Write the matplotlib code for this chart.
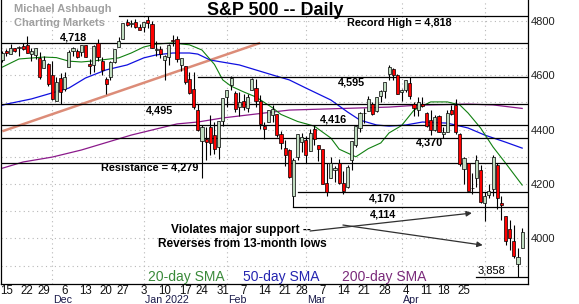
import numpy as np
import pandas as pd
import matplotlib
matplotlib.use('Agg')
import matplotlib.pyplot as plt

plt.rcParams['font.family'] = ['Liberation Sans', 'DejaVu Sans']

holidays = ['2021-11-25', '2021-12-24', '2022-01-17', '2022-02-21', '2022-04-15']
dates = pd.bdate_range('2021-11-12', '2022-05-13', freq='C', holidays=holidays)

# S&P 500 daily OHLC, Nov 12 2021 -> May 13 2022
opens = [4655, 4689, 4679, 4701, 4700, 4708, 4712, 4679, 4675, 4664,
         4628, 4641, 4602, 4504, 4589, 4548, 4631, 4690, 4691, 4687,
         4710, 4642, 4636, 4719, 4652, 4587, 4594, 4650, 4703, 4733,
         4795, 4788, 4795, 4776, 4778, 4804, 4788, 4693, 4698, 4655,
         4669, 4729, 4733, 4637, 4633, 4588, 4548, 4471, 4357, 4367,
         4408, 4380, 4336, 4431, 4519, 4566, 4535, 4482, 4505, 4480,
         4547, 4554, 4506, 4413, 4429, 4455, 4456, 4384, 4332, 4324,
         4155, 4298, 4355, 4363, 4322, 4401, 4343, 4327, 4203, 4223,
         4253, 4279, 4202, 4188, 4288, 4345, 4407, 4462, 4469, 4493,
         4470, 4522, 4541, 4603, 4624, 4600, 4540, 4547, 4573, 4495,
         4474, 4494, 4462, 4437, 4397, 4449, 4385, 4390, 4473, 4489,
         4385, 4255, 4279, 4186, 4222, 4253, 4130, 4159, 4181, 4271,
         4129, 4081, 4035, 3991, 3904, 3963]
highs = [4688, 4697, 4714, 4701, 4708, 4717, 4744, 4701, 4702, 4686,
         4672, 4646, 4652, 4595, 4608, 4612, 4694, 4705, 4695, 4713,
         4710, 4660, 4712, 4732, 4667, 4592, 4651, 4698, 4740, 4791,
         4807, 4805, 4808, 4787, 4797, 4819, 4798, 4725, 4708, 4673,
         4714, 4749, 4744, 4665, 4633, 4612, 4611, 4494, 4418, 4411,
         4453, 4429, 4432, 4516, 4547, 4596, 4542, 4540, 4530, 4531,
         4590, 4588, 4527, 4427, 4473, 4490, 4456, 4395, 4362, 4329,
         4295, 4385, 4389, 4378, 4401, 4416, 4343, 4328, 4277, 4299,
         4268, 4292, 4248, 4271, 4358, 4412, 4465, 4481, 4522, 4501,
         4520, 4546, 4575, 4637, 4627, 4603, 4548, 4583, 4593, 4503,
         4521, 4520, 4464, 4471, 4453, 4453, 4410, 4471, 4489, 4513,
         4386, 4299, 4279, 4240, 4308, 4270, 4169, 4200, 4308, 4276,
         4157, 4081, 4068, 4050, 3964, 4039]
lows = [4650, 4672, 4679, 4684, 4672, 4694, 4682, 4652, 4659, 4586,
        4626, 4560, 4510, 4504, 4495, 4541, 4631, 4670, 4665, 4671,
        4667, 4606, 4612, 4651, 4600, 4531, 4583, 4645, 4703, 4733,
        4780, 4778, 4775, 4766, 4759, 4774, 4699, 4671, 4663, 4582,
        4638, 4708, 4650, 4614, 4568, 4532, 4477, 4395, 4222, 4287,
        4305, 4309, 4293, 4415, 4483, 4545, 4465, 4452, 4472, 4464,
        4547, 4484, 4401, 4364, 4429, 4429, 4373, 4327, 4268, 4221,
        4114, 4287, 4318, 4279, 4322, 4345, 4284, 4199, 4157, 4223,
        4209, 4200, 4162, 4187, 4251, 4335, 4391, 4424, 4469, 4455,
        4465, 4501, 4517, 4581, 4582, 4530, 4507, 4539, 4514, 4450,
        4450, 4485, 4408, 4381, 4395, 4392, 4370, 4390, 4455, 4384,
        4267, 4200, 4175, 4162, 4188, 4131, 4062, 4147, 4154, 4107,
        4067, 3976, 3958, 3928, 3859, 3963]
closes = [4682, 4683, 4701, 4689, 4705, 4698, 4683, 4690, 4701, 4595,
          4655, 4567, 4513, 4577, 4538, 4592, 4686, 4701, 4667, 4712,
          4669, 4635, 4709, 4668, 4621, 4568, 4649, 4697, 4726, 4791,
          4786, 4793, 4778, 4766, 4797, 4794, 4701, 4696, 4677, 4670,
          4713, 4726, 4659, 4663, 4577, 4533, 4483, 4398, 4410, 4356,
          4350, 4327, 4432, 4516, 4546, 4590, 4477, 4501, 4484, 4521,
          4587, 4504, 4419, 4402, 4472, 4475, 4380, 4349, 4305, 4225,
          4288, 4385, 4374, 4306, 4387, 4364, 4329, 4201, 4171, 4278,
          4260, 4204, 4173, 4262, 4357, 4412, 4463, 4461, 4512, 4456,
          4520, 4543, 4575, 4632, 4602, 4530, 4546, 4582, 4525, 4481,
          4500, 4488, 4413, 4397, 4446, 4392, 4392, 4463, 4459, 4393,
          4272, 4296, 4175, 4184, 4288, 4132, 4156, 4175, 4300, 4147,
          4123, 3991, 4001, 3935, 3930, 4024]

# moving averages
sma20_dates = ['2021-11-12', '2021-11-18', '2021-11-29', '2021-12-02', '2021-12-07',
               '2021-12-10', '2021-12-15', '2021-12-23', '2021-12-29', '2022-01-03',
               '2022-01-06', '2022-01-12', '2022-01-19', '2022-01-24', '2022-01-27',
               '2022-01-31', '2022-02-02', '2022-02-07', '2022-02-10', '2022-02-16',
               '2022-02-18', '2022-02-25', '2022-03-03', '2022-03-09', '2022-03-11',
               '2022-03-17', '2022-03-22', '2022-03-25', '2022-03-29', '2022-04-01',
               '2022-04-06', '2022-04-12', '2022-04-19', '2022-04-22', '2022-04-26',
               '2022-04-29', '2022-05-04', '2022-05-09', '2022-05-13']
sma20_vals = [4630, 4660, 4667, 4665, 4652, 4649, 4653, 4664, 4682, 4704,
              4715, 4719, 4712, 4693, 4640, 4583, 4560, 4539, 4520, 4480,
              4456, 4430, 4413, 4369, 4328, 4300, 4330, 4351, 4388, 4415,
              4472, 4502, 4502, 4491, 4461, 4406, 4336, 4277, 4196]

sma50_dates = ['2021-11-12', '2021-11-15', '2021-11-23', '2021-12-07', '2021-12-13',
               '2021-12-20', '2021-12-28', '2022-01-03', '2022-01-06', '2022-01-12',
               '2022-01-19', '2022-01-21', '2022-01-26', '2022-02-04', '2022-02-16',
               '2022-02-23', '2022-03-01', '2022-03-09', '2022-03-15', '2022-03-18',
               '2022-03-24', '2022-03-29', '2022-04-04', '2022-04-08', '2022-04-19',
               '2022-04-26', '2022-05-02', '2022-05-09', '2022-05-13']
sma50_vals = [4490, 4494, 4513, 4553, 4590, 4620, 4638, 4664, 4675, 4682,
              4682, 4678, 4656, 4638, 4601, 4583, 4553, 4509, 4465, 4435,
              4417, 4413, 4417, 4428, 4424, 4406, 4380, 4354, 4332]

sma200_dates = ['2021-11-12', '2021-11-19', '2021-12-01', '2021-12-10', '2021-12-29',
                '2022-01-13', '2022-01-21', '2022-01-31', '2022-02-23', '2022-03-29',
                '2022-04-07', '2022-04-26', '2022-05-04', '2022-05-13']
sma200_vals = [4258, 4281, 4299, 4325, 4380, 4421, 4428, 4443, 4472, 4483,
               4490, 4494, 4491, 4478]

trend_dates = ['2021-11-12', '2022-02-11']
trend_vals = [4394, 4719]

levels = [4818, 4718, 4595, 4495, 4416, 4370, 4279, 4170, 4114, 3858]
level_starts = ['2021-12-23', None, '2022-01-21', None, None, None, None,
                '2022-02-25', '2022-02-24', '2022-04-28']

week_labels = ['15', '22', '29', '6', '13', '20', '27', '3', '10', '17', '24', '31',
               '7', '14', '21', '28', '7', '14', '21', '28', '4', '11', '18', '25']
month_labels = ['Dec', 'Jan 2022', 'Feb', 'Mar', 'Apr']
month_starts = ['2021-12-01', '2022-01-03', '2022-02-01', '2022-03-01', '2022-04-01']
grid_months = ['2021-12-01', '2022-01-03', '2022-02-01', '2022-03-01', '2022-04-01', '2022-05-02']


def pos(d):
    return dates.get_loc(pd.Timestamp(d))


W, H = 579, 304
fig = plt.figure(figsize=(W / 100, H / 100), dpi=100)
ax = fig.add_axes([1 / W, 20 / H, 527 / W, 284 / H])
ax.set_xlim(-0.32, 126.4)
ax.set_ylim(3832, 4877)

# grid
for v in range(3900, 4900, 100):
    ax.axhline(v, color='#b8b8b8', lw=0.8, ls=(0, (1, 3)), zorder=0)
for d in grid_months:
    ax.axvline(pos(d), color='#b8b8b8', lw=0.8, ls=(0, (1, 3)), zorder=0)

# support / resistance lines
for lv, st in zip(levels, level_starts):
    x0 = -1 if st is None else pos(st)
    ax.plot([x0, 130], [lv, lv], color='black', lw=0.9, zorder=2)

# trendline
ax.plot([pos(d) for d in trend_dates], trend_vals, color='#dc8c78', lw=1.8,
        solid_capstyle='butt', zorder=1)

# moving averages
ax.plot([pos(d) for d in sma200_dates], sma200_vals, color='#8b1a8b', lw=0.9, zorder=1)
ax.plot([pos(d) for d in sma50_dates], sma50_vals, color='#1010e0', lw=0.9, zorder=1)
ax.plot([pos(d) for d in sma20_dates], sma20_vals, color='#108010', lw=0.8, zorder=1)

# candles
o = np.array(opens)
c = np.array(closes)
x = np.arange(len(dates))
ax.vlines(x, lows, highs, color='black', lw=0.8, zorder=3)
body_lo = np.minimum(o, c)
body_h = np.maximum(np.abs(c - o), 2)
cols = np.where(c >= o, '#c0dcc0', '#ff0000')
ax.bar(x, body_h, bottom=body_lo, width=0.75, color=cols, edgecolor='black',
       linewidth=0.5, zorder=4)

# labels
bold = dict(fontsize=7.8, fontweight='bold', ha='center', va='center', zorder=6)
ax.text(17.2, 4739, '4,718', **bold)
ax.text(84.0, 4575, '4,595', **bold)
ax.text(37.9, 4472, '4,495', **bold)
ax.text(79.7, 4436, '4,416', **bold)
ax.text(102.6, 4351, '4,370', **bold)
ax.text(35.4, 4259, 'Resistance = 4,279', **bold)
ax.text(91.5, 4148, '4,170', **bold)
ax.text(91.5, 4089, '4,114', **bold)
ax.text(95.4, 4794, 'Record High = 4,818', **bold)
ax.text(117.7, 3883, '3,858', fontsize=8, ha='center', va='center', zorder=6)
ax.text(57.4, 4030, 'Violates major support --', fontsize=8.6, fontweight='bold',
        ha='center', va='center', zorder=6)
ax.text(57.6, 3979, 'Reverses from 13-month lows', fontsize=8.6, fontweight='bold',
        ha='center', va='center', zorder=6)

arrow = dict(arrowstyle='-|>', color='#303030', lw=0.9, mutation_scale=8,
             shrinkA=0, shrinkB=0)
ax.annotate('', xy=(112.9, 4093), xytext=(74.0, 4027), arrowprops=arrow, zorder=6)
ax.annotate('', xy=(115.5, 3975), xytext=(81.9, 4049), arrowprops=arrow, zorder=6)

# axes styling
ax.spines['top'].set_visible(False)
for s in ['left', 'right', 'bottom']:
    ax.spines[s].set_linewidth(0.9)

ax.yaxis.tick_right()
ax.set_yticks([4000, 4200, 4400, 4600, 4800])
ax.set_yticklabels(['4000', '4200', '4400', '4600', '4800'])
ax.tick_params(axis='y', length=0, pad=2, labelsize=8, labelcolor='#202020')

# first trading day of each week carries the tick
week_pos = []
seen = set()
for i, d in enumerate(dates):
    wk = d.isocalendar()[:2]
    if wk not in seen:
        seen.add(wk)
        week_pos.append(i)
week_pos = week_pos[1:1 + len(week_labels)]
ax.set_xticks(week_pos)
ax.set_xticklabels(week_labels)
ax.tick_params(axis='x', length=0, pad=0.5, labelsize=8.3, labelcolor='#101010')

for lab, d in zip(month_labels, month_starts):
    ax.text(pos(d) + 0.3, -19.3 / 284, lab, transform=ax.get_xaxis_transform(),
            fontsize=7.7, color='#1a1a4a', ha='left', va='baseline')

# title and credits
fig.text(0.475, 0.967, 'S&P 500 -- Daily', fontsize=12.9, fontweight='bold',
         ha='center', va='center')
fig.text(14 / W, 1 - 8.5 / H, 'Michael Ashbaugh', fontsize=7.9, fontweight='bold',
         color='#a0a0a0', ha='left', va='center')
fig.text(14 / W, 1 - 22.5 / H, 'Charting Markets', fontsize=7.9, fontweight='bold',
         color='#a0a0a0', ha='left', va='center')

# moving average legend
fig.text(148 / W, 1 - 277 / H, '20-day SMA', fontsize=10, color='#3a8a3a', va='center')
fig.text(243 / W, 1 - 277 / H, '50-day SMA', fontsize=10, color='#2424b0', va='center')
fig.text(342 / W, 1 - 277 / H, '200-day SMA', fontsize=10, color='#7a2a7a', va='center')

fig.savefig('out.png', dpi=100)
